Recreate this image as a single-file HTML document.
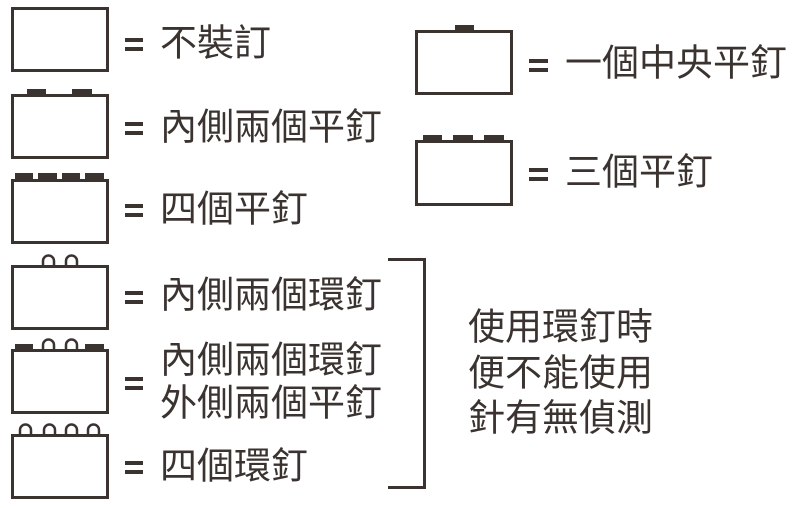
<!DOCTYPE html>
<html><head><meta charset="utf-8"><style>
html,body{margin:0;padding:0;background:#fff;}
svg{display:block}
text{font-family:"Liberation Sans","Noto Sans CJK TC",sans-serif;font-size:37px;fill:#3a3330;dominant-baseline:central}
</style></head><body>
<svg width="800" height="508" viewBox="0 0 800 508">
<g fill="none" stroke="#3a3330" stroke-width="3">
<rect x="12.5" y="8.5" width="95" height="62"/>
<rect x="12.5" y="95.5" width="95" height="62"/>
<rect x="12.5" y="180.5" width="95" height="62"/>
<rect x="12.5" y="266.5" width="95" height="62"/>
<rect x="12.5" y="350.5" width="95" height="62"/>
<rect x="12.5" y="435.5" width="95" height="62"/>
<rect x="416.5" y="31.5" width="95" height="62"/>
<rect x="416.5" y="141.5" width="95" height="63"/>
<polyline points="388,259.5 424.5,259.5 424.5,487.5 388,487.5"/>
<g stroke-width="2.5">
<path d="M43,265 v-4 a5.5,5.5 0 0 1 11,0 v4"/>
<path d="M66,265 v-4 a5.5,5.5 0 0 1 11,0 v4"/>
<path d="M43,349 v-4 a5.5,5.5 0 0 1 11,0 v4"/>
<path d="M66,349 v-4 a5.5,5.5 0 0 1 11,0 v4"/>
<path d="M20,434 v-4 a5.5,5.5 0 0 1 11,0 v4"/>
<path d="M44,434 v-4 a5.5,5.5 0 0 1 11,0 v4"/>
<path d="M66,434 v-4 a5.5,5.5 0 0 1 11,0 v4"/>
<path d="M88,434 v-4 a5.5,5.5 0 0 1 11,0 v4"/>
</g>
</g>
<g fill="#3a3330">
<rect x="27" y="89" width="19" height="6"/><rect x="72" y="89" width="20" height="6"/>
<rect x="15" y="173" width="18" height="6"/><rect x="38" y="173" width="19" height="6"/><rect x="62" y="173" width="18" height="6"/><rect x="85" y="173" width="19" height="6"/>
<rect x="15" y="344" width="18" height="6"/><rect x="85" y="344" width="19" height="6"/>
<rect x="455" y="25" width="19" height="6"/>
<rect x="423" y="135" width="19" height="6"/><rect x="453" y="135" width="20" height="6"/><rect x="484" y="135" width="20" height="6"/>
<rect x="125" y="38" width="18" height="4"/><rect x="125" y="47" width="18" height="4"/>
<rect x="125" y="122" width="18" height="4"/><rect x="125" y="131" width="18" height="4"/>
<rect x="125" y="204" width="18" height="4"/><rect x="125" y="213" width="18" height="4"/>
<rect x="125" y="291" width="18" height="4"/><rect x="125" y="300" width="18" height="4"/>
<rect x="125" y="377" width="18" height="4"/><rect x="125" y="386" width="18" height="4"/>
<rect x="125" y="461" width="18" height="4"/><rect x="125" y="470" width="18" height="4"/>
<rect x="529" y="59" width="19" height="4"/><rect x="529" y="68" width="19" height="4"/>
<rect x="529" y="168" width="19" height="4"/><rect x="529" y="177" width="19" height="4"/>
</g>
<text x="160" y="43">不裝訂</text>
<text x="160" y="127">內側兩個平釘</text>
<text x="160" y="209">四個平釘</text>
<text x="160" y="295">內側兩個環釘</text>
<text x="160" y="360">內側兩個環釘</text>
<text x="160" y="403">外側兩個平釘</text>
<text x="160" y="466">四個環釘</text>
<text x="565" y="63">一個中央平釘</text>
<text x="565" y="172">三個平釘</text>
<text x="468" y="327">使用環釘時</text>
<text x="468" y="373">便不能使用</text>
<text x="468" y="418">針有無偵測</text>
</svg>
</body></html>
